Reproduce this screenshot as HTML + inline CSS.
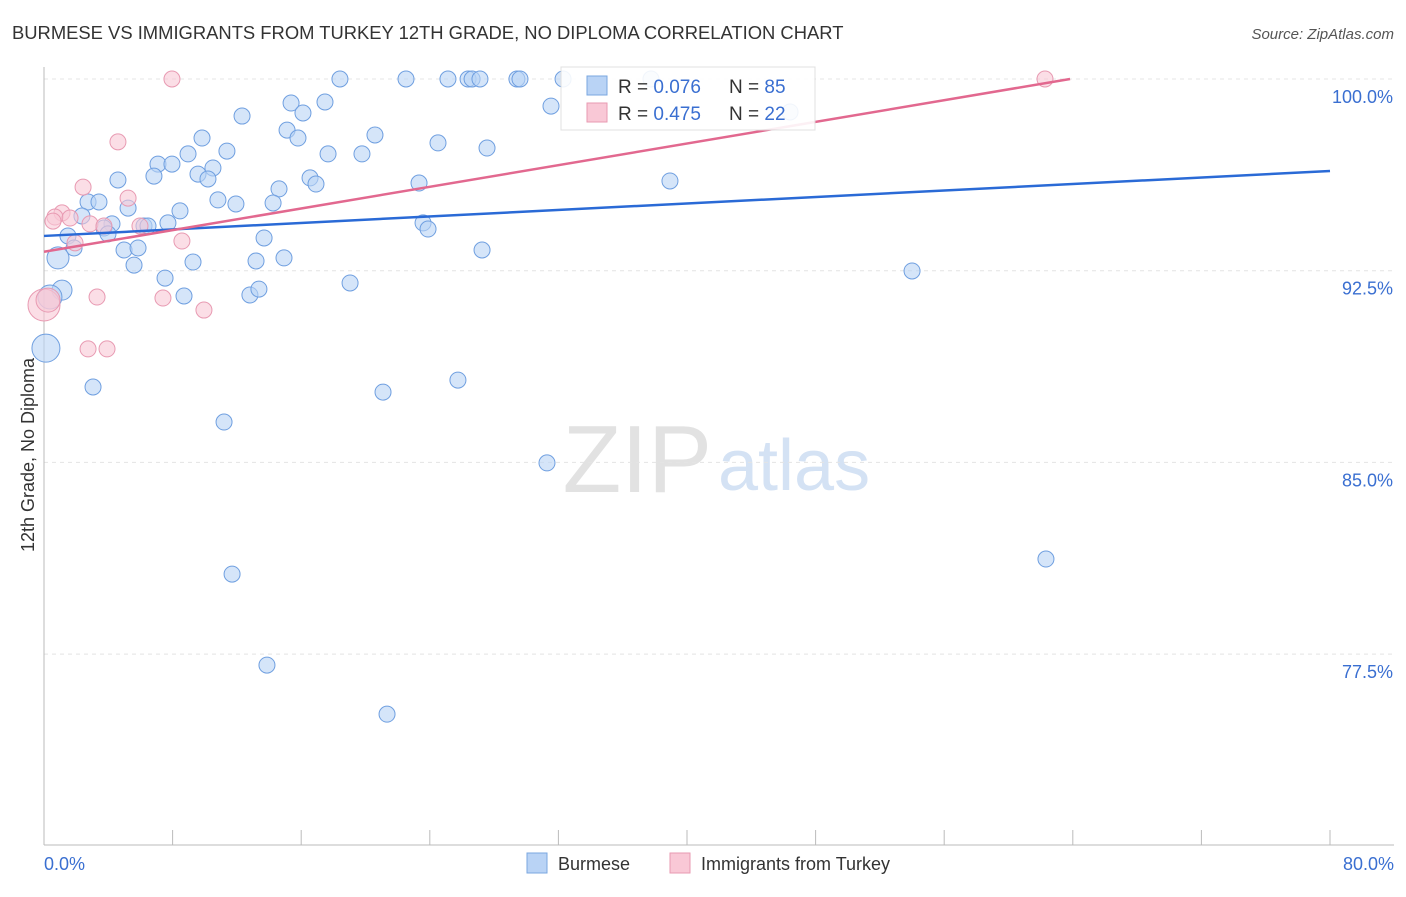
<!DOCTYPE html>
<html><head><meta charset="utf-8"><style>
body{margin:0;background:#fff;font-family:"Liberation Sans",sans-serif}
svg text{font-family:"Liberation Sans",sans-serif}
</style></head><body>
<svg width="1406" height="892" id="chart">
<text x="12" y="39" font-size="18.4" fill="#333">BURMESE VS IMMIGRANTS FROM TURKEY 12TH GRADE, NO DIPLOMA CORRELATION CHART</text>
<text x="1394" y="39" font-size="15" fill="#555" text-anchor="end" font-style="italic">Source: ZipAtlas.com</text>
<text x="712" y="492" font-size="96" fill="#e2e2e2" text-anchor="end" font-family="Liberation Serif">ZIP</text>
<text x="718" y="490" font-size="72" fill="#d4e2f4">atlas</text>
<text transform="translate(34,455) rotate(-90)" font-size="18" fill="#333" text-anchor="middle">12th Grade, No Diploma</text>
<g id="grid"></g><g id="marks"></g>
<g>
<rect x="561" y="67" width="254" height="63" fill="#fff" stroke="#ddd" opacity="0.9"/>
<rect x="587" y="76" width="20" height="19" fill="#b9d3f5" stroke="#7aa7e0"/>
<text x="618" y="93" font-size="19" fill="#333">R = <tspan fill="#3a6fd1">0.076</tspan></text>
<text x="729" y="93" font-size="19" fill="#333">N = <tspan fill="#3a6fd1">85</tspan></text>
<rect x="587" y="103" width="20" height="19" fill="#f9c8d6" stroke="#e89ab2"/>
<text x="618" y="120" font-size="19" fill="#333">R = <tspan fill="#3a6fd1">0.475</tspan></text>
<text x="729" y="120" font-size="19" fill="#333">N = <tspan fill="#3a6fd1">22</tspan></text>
</g>
<g>
<rect x="527" y="853" width="20" height="20" fill="#b9d3f5" stroke="#7aa7e0"/>
<text x="558" y="870" font-size="18" fill="#333">Burmese</text>
<rect x="670" y="853" width="20" height="20" fill="#f9c8d6" stroke="#e89ab2"/>
<text x="701" y="870" font-size="18" fill="#333">Immigrants from Turkey</text>
</g>
</svg>
<script>
const blueX=[18.41,22.52,25.13,26.38,26.63,27.12,29.42,29.61,32.29,37.76,31.54,12.32,15.37,17.48,16.11,15.12,15.80,20.59,24.51,27.56,9.83,11.38,8.96,7.09,7.96,6.84,9.58,10.51,10.20,17.67,19.78,4.60,14.62,16.55,16.92,23.33,38.94,2.74,3.42,5.23,10.82,11.94,14.25,8.46,2.36,4.23,6.22,6.47,7.71,3.73,3.98,23.58,23.89,1.49,13.69,1.87,4.98,5.85,0.87,5.60,9.27,13.19,14.93,27.25,7.53,19.04,1.12,0.37,8.71,12.81,13.37,54.00,0.12,3.05,21.09,25.75,11.20,31.29,11.70,62.33,13.87,21.34,46.41];
const blueY=[100,100,100,100,100,100,100,100,100,100,98.94,98.55,99.06,99.10,98.67,98.00,97.69,97.81,97.50,97.30,97.69,97.18,97.07,96.67,96.67,96.20,96.28,96.52,96.09,97.07,97.07,96.05,95.70,96.13,95.89,95.93,96.01,95.19,95.19,94.95,95.27,95.11,95.15,94.84,94.64,94.33,94.25,94.25,94.37,94.17,93.94,94.37,94.13,93.86,93.78,93.39,93.31,93.39,93.00,92.72,92.84,92.88,93.00,93.31,92.21,92.02,91.74,91.47,91.51,91.55,91.78,92.49,89.47,87.95,87.75,88.22,86.58,84.98,80.63,81.22,77.07,75.15,98.71];
const blueR=[8,8,8,8,8,8,8,8,8,8,8,8,8,8,8,8,8,8,8,8,8,8,8,8,8,8,8,8,8,8,8,8,8,8,8,8,8,8,8,8,8,8,8,8,8,8,8,8,8,8,8,8,8,8,8,8,8,8,11,8,8,8,8,8,8,8,10,12,8,8,8,8,14,8,8,8,8,8,8,8,8,8,8];
const pinkX=[7.96,62.27,4.60,2.43,5.23,1.12,0.68,1.62,0.56,2.86,3.73,5.97,1.93,8.58,3.30,7.40,9.95,2.74,3.92,0,0.25];
const pinkY=[100,100,97.54,95.77,95.34,94.76,94.60,94.56,94.44,94.33,94.25,94.25,93.59,93.66,91.47,91.43,90.96,89.44,89.44,91.16,91.35];
const pinkR=[8,8,8,8,8,8,8,8,8,8,8,8,8,8,8,8,8,8,8,16,12];
const yTicks=[100,92.5,85,77.5];
const yTickLabels=["100.0%","92.5%","85.0%","77.5%"];
const blueTrend=[93.86,96.40];
const pinkTrend=[93.24,0.1059,63.83];
const NS="http://www.w3.org/2000/svg";
const sx=v=>44+v*16.075, sy=v=>79+(100-v)*25.56;
const grid=document.getElementById('grid'), marks=document.getElementById('marks');
function mk(p,tag,a){const e=document.createElementNS(NS,tag);for(const k in a)e.setAttribute(k,a[k]);p.appendChild(e);return e;}
yTicks.forEach((t,i)=>{
 const l=mk(grid,'line',{x1:44,x2:1394,y1:sy(t),y2:sy(t),stroke:'#e4e4e4','stroke-dasharray':'4,4'});
 
 
 const tx=mk(grid,'text',{x:1393,y:sy(t)+24,'font-size':18,fill:'#3a6fd1','text-anchor':'end'});
 tx.textContent=yTickLabels[i];
 
 
});
const ax=mk(grid,'line',{x1:44,x2:44,y1:67,y2:845,stroke:'#bbb'});


const bx=mk(grid,'line',{x1:44,x2:1394,y1:845,y2:845,stroke:'#bbb'});


for(let i=1;i<=10;i++){const t=mk(grid,'line',{x1:sx(i*8),x2:sx(i*8),y1:830,y2:845,stroke:'#bbb'});
 
 }
[[0,'0.0%','start',44],[80,'80.0%','end',1394]].forEach(d=>{const t=mk(grid,'text',{x:d[3],y:870,'font-size':18,fill:'#3a6fd1','text-anchor':d[2]});t.textContent=d[1];
 
 });
blueX.forEach((x,i)=>{const c=mk(marks,'circle',{cx:sx(x),cy:sy(blueY[i]),r:blueR[i],fill:'#b9d3f5','fill-opacity':0.6,stroke:'#6f9fe0','stroke-width':1});
 
 });
pinkX.forEach((x,i)=>{const c=mk(marks,'circle',{cx:sx(x),cy:sy(pinkY[i]),r:pinkR[i],fill:'#f9c8d6','fill-opacity':0.6,stroke:'#e89ab2','stroke-width':1});
 
 });
const bl=mk(marks,'line',{x1:sx(0),y1:sy(blueTrend[0]),x2:sx(80),y2:sy(blueTrend[1]),stroke:'#2a6ad6','stroke-width':2.5});


const pl=mk(marks,'line',{x1:sx(0),y1:sy(pinkTrend[0]),x2:sx(pinkTrend[2]),y2:sy(pinkTrend[0]+pinkTrend[1]*pinkTrend[2]),stroke:'#e2688f','stroke-width':2.5});


</script>
</body></html>
